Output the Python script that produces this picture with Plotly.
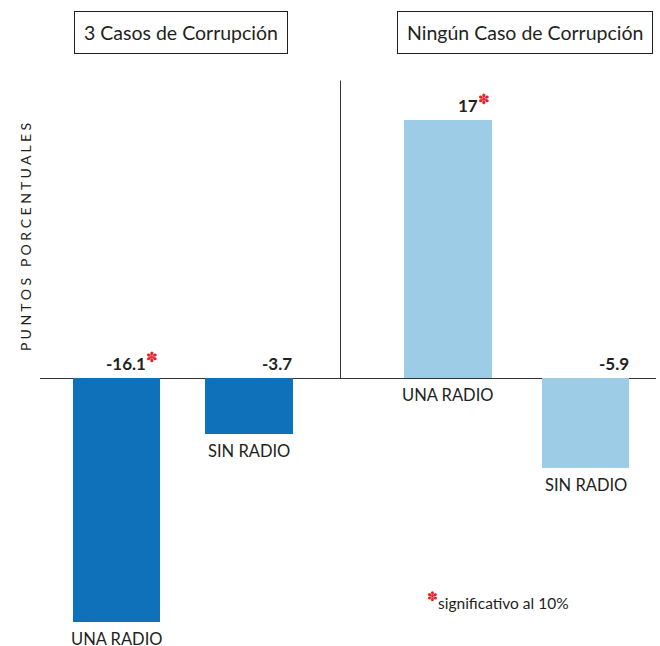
import plotly.graph_objects as go

groups = ["3 Casos de Corrupción", "Ningún Caso de Corrupción"]
categories = ["UNA RADIO", "SIN RADIO", "UNA RADIO", "SIN RADIO"]
values = [-16.1, -3.7, 17, -5.9]
value_labels = ["-16.1", "-3.7", "17", "-5.9"]
significant = [True, False, True, False]
positions = [0, 1, 2.5, 3.54]
colors = ["#0F71B9", "#0F71B9", "#9DCDE6", "#9DCDE6"]
bar_width = 0.66

FONT = "Lato, 'Open Sans', sans-serif"
TXT = "#231F20"
STAR = "#E0202A"
STAR_GLYPH = "✽"

fig = go.Figure()
fig.add_trace(go.Bar(x=positions, y=values, width=bar_width,
                     marker=dict(color=colors, line=dict(width=0)),
                     hoverinfo="skip", showlegend=False))

ann = []
for x, v, lab, sig, cat in zip(positions, values, value_labels, significant, categories):
    txt = "<b>%s</b>" % lab
    if sig:
        txt += "<span style='color:%s;font-size:20px'><sup>%s</sup></span>" % (STAR, STAR_GLYPH)
    ann.append(dict(x=x + bar_width / 2 + (0.0 if sig else 0.01), y=max(v, 0), xref="x", yref="y",
                    text=txt, showarrow=False, xanchor="right", yanchor="bottom",
                    yshift=2, font=dict(size=17, color=TXT, family=FONT)))
    ann.append(dict(x=x, y=min(v, 0), xref="x", yref="y", text=cat,
                    showarrow=False, xanchor="center", yanchor="top", yshift=-5,
                    font=dict(size=16.5, color=TXT, family=FONT)))

for gx, g in zip([0.49, 3.085], groups):
    ann.append(dict(x=gx, y=33, xref="x", yref="paper", text=g, showarrow=False,
                    xanchor="center", yanchor="middle",
                    bordercolor="#231F20", borderwidth=1, borderpad=9,
                    font=dict(size=19.5, color=TXT, family=FONT)))

ann.append(dict(x=25, y=237, xref="paper", yref="paper", text="P U N T O S   P O R C E N T U A L E S",
                textangle=-90, showarrow=False, xanchor="center", yanchor="middle",
                font=dict(size=14, color=TXT, family=FONT)))
ann.append(dict(x=425, y=600, xref="paper", yref="paper",
                text="<span style='color:%s;font-size:18px'><sup>%s</sup></span>significativo al 10%%" % (STAR, STAR_GLYPH),
                showarrow=False, xanchor="left", yanchor="middle",
                font=dict(size=15.5, color=TXT, family=FONT)))

L, R, T, B = 40, 4, 40, 6
W, H = 660, 646
pw, ph = W - L - R, H - T - B
for a in ann:
    if a["xref"] == "paper":
        a["x"] = (a["x"] - L) / pw
    if a["yref"] == "paper":
        a["y"] = 1 - (a["y"] - T) / ph

fig.update_layout(
    width=W, height=H,
    margin=dict(l=L, r=R, t=T, b=B),
    paper_bgcolor="white", plot_bgcolor="white",
    bargap=0,
    xaxis=dict(range=[-0.577, 4.07], visible=False, fixedrange=True),
    yaxis=dict(range=[-17.26, 22.27], showgrid=False, showticklabels=False,
               ticks="", zeroline=True, zerolinecolor="#333333", zerolinewidth=1,
               fixedrange=True),
    annotations=ann,
    shapes=[dict(type="line", xref="x", yref="y", x0=1.69, x1=1.69, y0=0, y1=19.6,
                 line=dict(color="#333333", width=1))],
)

fig.write_html("out.html", config={"displayModeBar": False},
               post_script="document.body.style.margin='0px';document.body.style.overflow='hidden';")
